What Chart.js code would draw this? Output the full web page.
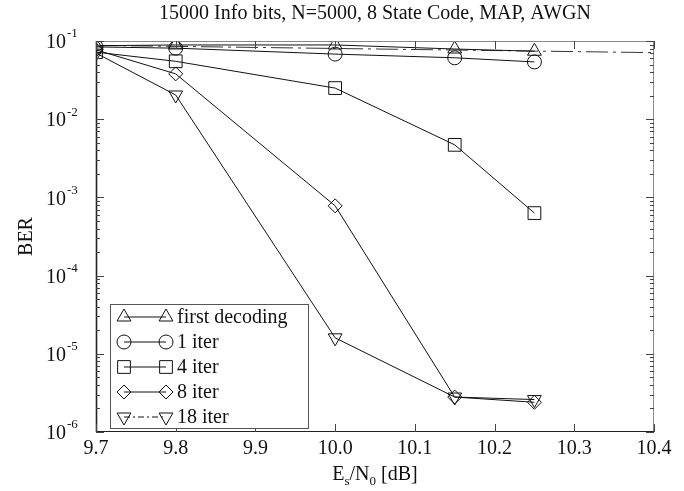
<!DOCTYPE html>
<html>
<head>
<meta charset="utf-8">
<script src="https://cdn.jsdelivr.net/npm/chart.js@4/dist/chart.umd.min.js"></script>
<style>
  body { margin: 0; background: #fff; }
  canvas { display: block; }
</style>
</head>
<body>
<canvas id="berChart" width="684" height="491"></canvas>
<script>
// Data
const snr = [9.7, 9.8, 10.0, 10.15, 10.25];
const firstDecoding = [0.087, 0.089, 0.089, 0.079, 0.074];
const iter1 = [0.084, 0.081, 0.068, 0.061, 0.054];
const iter4 = [0.072, 0.055, 0.025, 0.0047, 0.00063];
const iter8 = [0.077, 0.038, 0.00078, 0.0000028, 0.0000024];
const iter18 = [0.070, 0.0204, 0.000016, 0.0000028, 0.0000026];
// dash-dot reference line across the top
const refX = [9.7, 10.4];
const refY = [0.088, 0.071];

const xTicks = [9.7, 9.8, 9.9, 10.0, 10.1, 10.2, 10.3, 10.4];
const yDecades = [-1, -2, -3, -4, -5, -6];

const serif = "'Liberation Serif', 'DejaVu Serif', serif";

function pts(xs, ys) {
    return xs.map((x, i) => ({ x: x, y: ys[i] }));
}

function series(label, ys, style, radius, rotation, legendDash) {
    return {
        label: label,
        data: pts(snr, ys),
        borderColor: '#111',
        borderWidth: 1,
        backgroundColor: 'rgba(0,0,0,0)',
        pointStyle: style,
        pointRadius: radius,
        pointRotation: rotation,
        pointBorderColor: '#111',
        pointBackgroundColor: 'rgba(0,0,0,0)',
        pointBorderWidth: 1,
        tension: 0,
        legendDash: legendDash
    };
}

// Frame, inward ticks, tick labels, titles and legend
const decorations = {
    id: 'decorations',
    afterDraw(chart) {
        const ctx = chart.ctx;
        const a = chart.chartArea;
        const xs = chart.scales.x;
        const ys = chart.scales.y;
        ctx.save();

        // frame
        ctx.lineWidth = 1;
        ctx.strokeStyle = '#888';
        ctx.beginPath();
        ctx.moveTo(a.left, a.top + 0.5); ctx.lineTo(a.right, a.top + 0.5);
        ctx.moveTo(a.right - 0.5, a.top); ctx.lineTo(a.right - 0.5, a.bottom);
        ctx.stroke();
        ctx.strokeStyle = '#222';
        ctx.beginPath();
        ctx.moveTo(a.left, a.bottom - 0.5); ctx.lineTo(a.right, a.bottom - 0.5);
        ctx.stroke();
        ctx.lineWidth = 1.6;
        ctx.beginPath();
        ctx.moveTo(a.left + 0.5, a.top); ctx.lineTo(a.left + 0.5, a.bottom);
        ctx.stroke();

        // x ticks (inward, top and bottom)
        ctx.lineWidth = 1;
        ctx.strokeStyle = '#444';
        ctx.beginPath();
        xTicks.forEach(v => {
            const px = Math.round(xs.getPixelForValue(v)) + 0.5;
            ctx.moveTo(px, a.bottom); ctx.lineTo(px, a.bottom - 8);
            ctx.moveTo(px, a.top); ctx.lineTo(px, a.top + 8);
        });
        // y ticks, major and minor, left and right
        for (let e = -6; e <= -1; e++) {
            for (let m = 1; m <= 9; m++) {
                const v = m * Math.pow(10, e);
                if (v > 0.1 + 1e-12) continue;
                const py = Math.round(ys.getPixelForValue(v)) + 0.5;
                const len = m === 1 ? 8 : 4;
                ctx.moveTo(a.left, py); ctx.lineTo(a.left + len, py);
                ctx.moveTo(a.right, py); ctx.lineTo(a.right - len, py);
            }
        }
        ctx.stroke();

        // y tick labels 10^k
        ctx.fillStyle = '#111';
        yDecades.forEach(k => {
            const py = ys.getPixelForValue(Math.pow(10, k));
            ctx.font = '20px ' + serif;
            ctx.textAlign = 'right';
            ctx.textBaseline = 'middle';
            ctx.fillText('10', 66, py + 2);
            ctx.font = '13px ' + serif;
            ctx.textAlign = 'left';
            ctx.fillText(String(k), 67, py - 7);
        });

        // title
        ctx.font = '20px ' + serif;
        ctx.textAlign = 'center';
        ctx.textBaseline = 'middle';
        ctx.fillText('15000 Info bits, N=5000, 8 State Code, MAP, AWGN', (a.left + a.right) / 2, 14);

        // y axis title
        ctx.save();
        ctx.translate(27, (a.top + a.bottom) / 2);
        ctx.rotate(-Math.PI / 2);
        ctx.fillText('BER', 0, 0);
        ctx.restore();

        // x axis title E_s/N_0 [dB]
        const cx = (a.left + a.right) / 2;
        const base = 480;
        const parts = [['E', 20, 0], ['s', 13, 5], ['/N', 20, 0], ['0', 13, 5], [' [dB]', 20, 0]];
        let total = 0;
        parts.forEach(p => { ctx.font = p[1] + 'px ' + serif; total += ctx.measureText(p[0]).width; });
        let px = cx - total / 2;
        ctx.textAlign = 'left';
        ctx.textBaseline = 'alphabetic';
        parts.forEach(p => {
            ctx.font = p[1] + 'px ' + serif;
            ctx.fillText(p[0], px, base + p[2]);
            px += ctx.measureText(p[0]).width;
        });

        // legend
        const lx = 110, ly = 304, lw = 198, lh = 124;
        ctx.fillStyle = '#fff';
        ctx.fillRect(lx, ly, lw, lh);
        ctx.strokeStyle = '#555';
        ctx.lineWidth = 1;
        ctx.strokeRect(lx + 0.5, ly + 0.5, lw, lh);
        chart.data.datasets.forEach((ds, i) => {
            if (!ds.label) return;
            const rowY = ly + 13 + i * 25;
            ctx.strokeStyle = '#111';
            ctx.lineWidth = 1;
            ctx.setLineDash(ds.legendDash || []);
            ctx.beginPath();
            ctx.moveTo(124, rowY); ctx.lineTo(166, rowY);
            ctx.stroke();
            ctx.setLineDash([]);
            const opts = {
                pointStyle: ds.pointStyle,
                radius: ds.pointRadius,
                rotation: ds.pointRotation,
                borderWidth: 1
            };
            ctx.fillStyle = 'rgba(0,0,0,0)';
            Chart.helpers.drawPoint(ctx, opts, 124, rowY);
            Chart.helpers.drawPoint(ctx, opts, 166, rowY);
            ctx.fillStyle = '#111';
            ctx.font = '20px ' + serif;
            ctx.textAlign = 'left';
            ctx.textBaseline = 'middle';
            ctx.fillText(ds.label, 177, rowY + 1);
        });

        ctx.restore();
    }
};

const ctx = document.getElementById('berChart').getContext('2d');

new Chart(ctx, {
    type: 'line',
    data: {
        datasets: [
            series('first decoding', firstDecoding, 'triangle', 8, 0, []),
            series('1 iter', iter1, 'circle', 7, 0, []),
            series('4 iter', iter4, 'rect', 9, 0, []),
            series('8 iter', iter8, 'rectRot', 7, 0, []),
            series('18 iter', iter18, 'triangle', 8, 180, [6, 3, 2, 3]),
            {
                label: '',
                data: pts(refX, refY),
                borderColor: '#333',
                borderWidth: 1,
                borderDash: [22, 5, 3, 5],
                pointRadius: 0,
                tension: 0
            }
        ]
    },
    options: {
        responsive: false,
        animation: false,
        layout: {
            padding: { top: 41, right: 30, left: 0, bottom: 0 }
        },
        plugins: {
            legend: { display: false },
            tooltip: { enabled: false }
        },
        scales: {
            x: {
                type: 'linear',
                min: 9.7,
                max: 10.4,
                afterFit: s => { s.height = 59; },
                afterBuildTicks: s => { s.ticks = xTicks.map(v => ({ value: v })); },
                grid: { display: false, drawTicks: false },
                border: { display: false },
                ticks: {
                    padding: 5,
                    color: '#111',
                    font: { family: serif, size: 20 },
                    maxRotation: 0,
                    autoSkip: false,
                    callback: v => v.toFixed(1)
                }
            },
            y: {
                type: 'logarithmic',
                min: 1e-6,
                max: 1e-1,
                afterFit: s => { s.width = 96; },
                grid: { display: false, drawTicks: false },
                border: { display: false },
                ticks: { display: false }
            }
        }
    },
    plugins: [decorations]
});
</script>
</body>
</html>
